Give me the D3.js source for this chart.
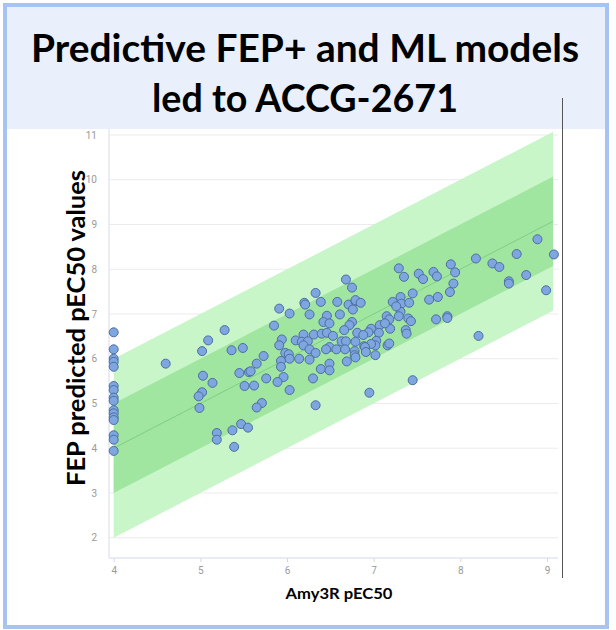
<!DOCTYPE html>
<html>
<head>
<meta charset="utf-8">
<script src="https://cdn.jsdelivr.net/npm/d3@7"></script>
<style>
  body { margin: 0; background: #fff; }
  .tick text { font-family: Roboto, sans-serif; font-size: 10px; fill: #9a9a9a; }
</style>
</head>
<body>
<div id="chart"></div>
<script>
// Chart data
let titleLines = ["Predictive FEP+ and ML models", "led to ACCG-2671"];
let xLabel = "Amy3R pEC50";
let yLabel = "FEP predicted pEC50 values";
let xTicks = [4, 5, 6, 7, 8, 9];
let yTicks = [2, 3, 4, 5, 6, 7, 8, 9, 10, 11];

// identity line and the +/-1, +/-2 bands
let bandStart = 4;
let bandEnd = 9.07;
let innerBand = 1;
let outerBand = 2;

// Amy3R pEC50 (measured)
let amyX = [
  4, 4, 4, 4, 4, 4, 4, 4, 4, 4, 4, 4, 4, 4, 4, 4,
  4.60, 5.28, 5.09, 5.02, 5.36, 5.49, 5.03, 5.14, 5.45, 5.56, 5.51, 5.02, 4.98, 4.99, 5.19, 5.19, 5.37, 5.47, 5.55, 5.39,
  6.68, 6.75, 6.33, 6.20, 6.21, 6.39, 6.58, 6.71, 6.79, 6.76, 5.91, 6.03, 6.26, 6.46, 6.61, 6.42, 6.49, 6.75, 6.72, 5.85,
  6.66, 6.81, 6.19, 6.31, 6.40, 6.46, 6.53, 5.94, 6.10, 6.17, 6.24, 6.63, 6.68, 6.79, 5.91, 6.19, 6.49, 5.98, 6.02, 6.26,
  6.33, 6.45, 6.57, 6.67, 6.78, 5.73, 6.03, 6.14, 6.26, 5.93, 5.93, 5.65, 6.49, 6.69, 5.58, 6.39, 6.49, 5.96, 5.76, 5.89,
  6.30, 5.62, 6.03, 5.71, 5.65, 6.33,
  7.89, 7.94, 7.29, 7.35, 7.52, 7.57, 7.69, 7.73, 7.92, 7.88, 7.45, 7.31, 7.64, 7.74, 7.22, 7.32, 7.41, 7.31, 7.29, 7.40,
  7.43, 7.72, 7.85, 7.85, 7.15, 7.18, 7.07, 7.19, 7.37, 7.38, 7.13, 6.97, 6.94, 6.88, 7.06, 7.03, 6.89, 7.02, 7.16, 7.18,
  6.78, 7.02, 6.79, 6.85, 7.45,
  8.89, 9.08, 8.65, 8.18, 8.37, 8.45, 8.76, 8.56, 8.56, 8.99, 8.21,
  6.95, 7.26, 6.97, 6.90, 6.91, 6.79
];

// FEP predicted pEC50
let fepY = [
  6.59, 6.21, 6.00, 5.93, 5.82, 5.39, 5.30, 5.13, 5.06, 4.85, 4.78, 4.69, 4.63, 4.29, 4.19, 3.94,
  5.89, 6.64, 6.41, 6.17, 6.19, 6.24, 5.62, 5.46, 5.68, 5.70, 5.39, 5.25, 5.16, 4.90, 4.34, 4.19, 4.40, 4.54, 4.46, 4.03,
  7.77, 7.59, 7.47, 7.25, 7.21, 7.27, 7.27, 7.21, 7.28, 7.10, 7.12, 7.01, 6.99, 6.96, 6.99, 6.82, 6.79, 6.82, 6.75, 6.74,
  6.64, 6.58, 6.54, 6.54, 6.56, 6.58, 6.51, 6.43, 6.41, 6.38, 6.39, 6.39, 6.39, 6.38, 6.30, 6.30, 6.26, 6.13, 6.10, 6.21,
  6.13, 6.21, 6.21, 6.21, 6.17, 6.06, 6.00, 6.00, 5.98, 5.95, 5.82, 5.89, 5.89, 5.94, 5.72, 5.77, 5.74, 5.59, 5.56, 5.48,
  5.56, 5.40, 5.30, 5.01, 4.91, 4.96,
  8.11, 7.93, 8.02, 7.83, 7.90, 7.78, 7.94, 7.84, 7.68, 7.49, 7.46, 7.38, 7.32, 7.38, 7.27, 7.23, 7.25, 7.05, 6.95, 6.90,
  6.84, 6.88, 6.95, 6.91, 6.95, 6.88, 6.75, 6.67, 6.64, 6.56, 6.79, 6.67, 6.59, 6.53, 6.58, 6.40, 6.28, 6.30, 6.30, 6.34,
  6.08, 6.08, 7.31, 7.25, 5.52,
  8.67, 8.33, 8.34, 8.24, 8.13, 8.05, 7.87, 7.73, 7.68, 7.53, 6.51,
  5.24, 7.17, 6.33, 6.26, 6.15, 6.03
];

let points = amyX.map((x, i) => ({x: x, y: fepY[i]}));

let width = 616;
let height = 630;

let svg = d3.select("#chart")
            .append("svg")
            .attr("width", width)
            .attr("height", height);

// slide frame + title panel
svg.append("rect")
   .attr("x", 5).attr("y", 5)
   .attr("width", 602).attr("height", 622)
   .attr("fill", "#fff")
   .attr("stroke", "#a6c3f2")
   .attr("stroke-width", 4);

svg.append("rect")
   .attr("x", 7).attr("y", 7)
   .attr("width", 598).attr("height", 122)
   .attr("fill", "#e9f0fc");

svg.selectAll(".title")
   .data(titleLines)
   .enter()
   .append("text")
   .attr("class", "title")
   .attr("x", 305)
   .attr("y", (d, i) => 62 + i * 50)
   .attr("text-anchor", "middle")
   .attr("font-family", "Lato, 'Open Sans', sans-serif")
   .attr("font-weight", "bold")
   .attr("font-size", 39)
   .attr("fill", "#000")
   .attr("textLength", (d, i) => i == 0 ? 548 : 306)
   .attr("lengthAdjust", "spacingAndGlyphs")
   .text(d => d);

// scales
let xScale = d3.scaleLinear()
               .domain([4, 9])
               .range([113.7, 547]);

let yScale = d3.scaleLinear()
               .domain([2, 11])
               .range([537.7, 135]);

let plotLeft = 109;
let plotRight = 558;
let plotBottom = 558;

// horizontal grid
svg.append("g")
   .attr("class", "grid")
   .selectAll("line")
   .data(yTicks)
   .enter()
   .append("line")
   .attr("x1", plotLeft)
   .attr("x2", plotRight)
   .attr("y1", d => yScale(d))
   .attr("y2", d => yScale(d))
   .attr("stroke", "#ebebeb")
   .attr("stroke-width", 1);

// bands around y = x
let bandArea = (off) => d3.area()
                          .x(d => xScale(d))
                          .y0(d => yScale(d - off))
                          .y1(d => yScale(d + off));

svg.append("path")
   .datum([bandStart, bandEnd])
   .attr("d", bandArea(outerBand))
   .attr("fill", "#c6f5c6")
   .attr("opacity", 0.95);

svg.append("path")
   .datum([bandStart, bandEnd])
   .attr("d", bandArea(innerBand))
   .attr("fill", "#9ee59e")
   .attr("opacity", 0.95);

svg.append("path")
   .datum([bandStart, bandEnd])
   .attr("d", d3.line().x(d => xScale(d)).y(d => yScale(d)))
   .attr("stroke", "#7fcf86")
   .attr("stroke-width", 1)
   .attr("fill", "none");

// axes
let xAxis = svg.append("g")
               .attr("class", "x axis")
               .attr("transform", `translate(0, ${plotBottom})`)
               .call(d3.axisBottom(xScale).tickValues(xTicks).tickFormat(d3.format("d"))
                       .tickSize(4).tickPadding(5));

let yAxis = svg.append("g")
               .attr("class", "y axis")
               .attr("transform", `translate(${plotLeft}, 0)`)
               .call(d3.axisLeft(yScale).tickValues(yTicks).tickFormat(d3.format("d"))
                       .tickSize(0).tickPadding(12));

xAxis.select(".domain").remove();
yAxis.select(".domain").remove();
xAxis.selectAll(".tick line").attr("stroke", "#d8d8d8");

svg.append("line")
   .attr("x1", plotLeft).attr("x2", plotRight)
   .attr("y1", plotBottom).attr("y2", plotBottom)
   .attr("stroke", "#e2e5f0").attr("stroke-width", 1.5);

svg.append("line")
   .attr("x1", plotLeft).attr("x2", plotLeft)
   .attr("y1", 129).attr("y2", plotBottom)
   .attr("stroke", "#e4e7f3").attr("stroke-width", 1.5);

// points
svg.append("g")
   .attr("class", "dotGroup")
   .selectAll("circle")
   .data(points)
   .enter()
   .append("circle")
   .attr("class", "dot")
   .attr("r", 4.5)
   .attr("cx", d => xScale(d.x))
   .attr("cy", d => yScale(d.y))
   .attr("fill", "#7ea6e0")
   .attr("stroke", "#4e6e9e")
   .attr("stroke-width", 1);

// dark edge line on the right
svg.append("line")
   .attr("x1", 562.5).attr("x2", 562.5)
   .attr("y1", 98).attr("y2", 578)
   .attr("stroke", "#555")
   .attr("stroke-width", 1);

// axis titles
svg.append("text")
   .attr("x", 339)
   .attr("y", 599)
   .attr("text-anchor", "middle")
   .attr("font-family", "Lato, sans-serif")
   .attr("font-weight", "bold")
   .attr("font-size", 16)
   .attr("textLength", 107)
   .attr("lengthAdjust", "spacingAndGlyphs")
   .text(xLabel);

svg.append("text")
   .attr("transform", "translate(85, 328) rotate(-90)")
   .attr("text-anchor", "middle")
   .attr("font-family", "Lato, sans-serif")
   .attr("font-weight", "bold")
   .attr("font-size", 25)
   .attr("textLength", 316)
   .attr("lengthAdjust", "spacingAndGlyphs")
   .text(yLabel);
</script>
</body>
</html>
